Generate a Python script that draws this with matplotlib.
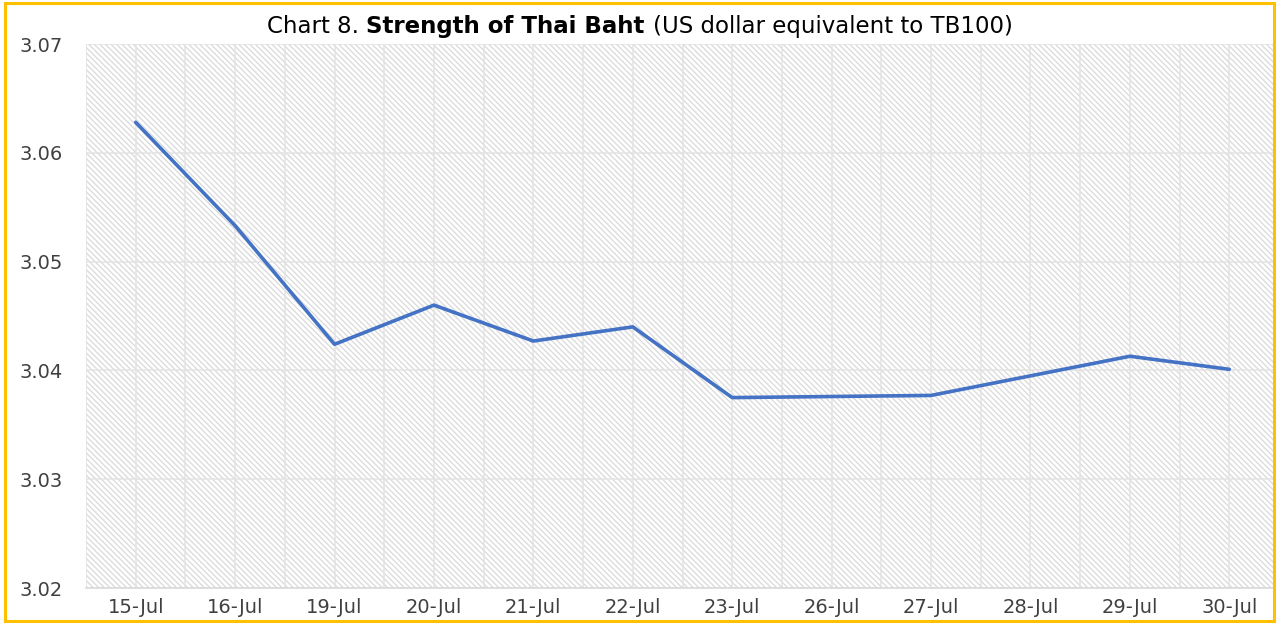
import matplotlib
matplotlib.use("Agg")
import matplotlib.pyplot as plt
import numpy as np

dates = ["15-Jul", "16-Jul", "19-Jul", "20-Jul", "21-Jul", "22-Jul",
         "23-Jul", "26-Jul", "27-Jul", "28-Jul", "29-Jul", "30-Jul"]
usd_per_100thb = [3.0628, 3.0533, 3.0424, 3.0460, 3.0427, 3.0440,
                  3.0375, 3.0376, 3.0377, 3.0395, 3.0413, 3.0401]
yticks = [3.02, 3.03, 3.04, 3.05, 3.06, 3.07]

plt.rcParams["font.family"] = "DejaVu Sans"
plt.rcParams["hatch.color"] = "#d9d9d9"
plt.rcParams["hatch.linewidth"] = 0.9

W, H = 1276, 623
fig = plt.figure(figsize=(W / 100, H / 100), dpi=100)
ax = fig.add_axes([86 / W, 1 - 588 / H, (1279 - 86) / W, (588 - 44) / H])

# hatched plot area like the excel pattern fill
ax.patch.set_facecolor("white")
ax.patch.set_hatch("\\\\\\\\\\\\")
ax.patch.set_edgecolor("#d9d9d9")
ax.patch.set_linewidth(0)

x = np.arange(len(dates))
ax.plot(x, usd_per_100thb, color="#4472c4", linewidth=2.6,
        solid_capstyle="round", solid_joinstyle="round", zorder=3)

ax.set_xlim(-0.5, len(dates) - 0.5)
ax.set_ylim(3.02, 3.07)
ax.set_yticks(yticks)
ax.set_yticklabels(["%.2f" % v for v in yticks])
ax.set_xticks(x)
ax.set_xticklabels(dates)
ax.set_xticks(np.arange(-0.5, len(dates), 1.0), minor=True)
ax.tick_params(which="both", length=0, colors="#404040", labelsize=14)
ax.tick_params(axis="x", pad=7)
ax.tick_params(axis="y", pad=17)

ax.grid(True, which="both", axis="x", color="#e3e3e3", linewidth=1.1)
ax.grid(True, which="major", axis="y", color="#e3e3e3", linewidth=1.1)
ax.set_axisbelow(True)

for s in ["top", "right", "left"]:
    ax.spines[s].set_visible(False)
ax.spines["bottom"].set_color("#d9d9d9")
ax.spines["bottom"].set_linewidth(1.2)

# title with a bold middle part
fs = 16.5
t1 = fig.text(260 / W, 1 - 38 / H, "Chart 8. ", fontsize=fs,
              color="black", ha="left", va="bottom")
t2 = ax.annotate("Strength of Thai Baht ", xy=(1, 0), xycoords=t1,
                 fontsize=fs, fontweight="bold", color="black",
                 va="bottom", annotation_clip=False)
t3 = ax.annotate("(US dollar equivalent to TB100)", xy=(1, 0), xycoords=t2,
                 fontsize=fs, color="black",
                 va="bottom", annotation_clip=False)

# centre the three pieces around x=640 px
fig.canvas.draw()
r = fig.canvas.get_renderer()
left = t1.get_window_extent(r).x0
right = t3.get_window_extent(r).x1
t1.set_x((260 + (640 - (left + right) / 2)) / W)

# gold outline round the chart
frame = plt.Rectangle((5 / W, 2 / H), (W - 7) / W, (H - 5) / H,
                      transform=fig.transFigure, fill=False,
                      edgecolor="#ffc000", linewidth=2.2, zorder=10)
fig.add_artist(frame)

fig.savefig("out.png", dpi=100)
